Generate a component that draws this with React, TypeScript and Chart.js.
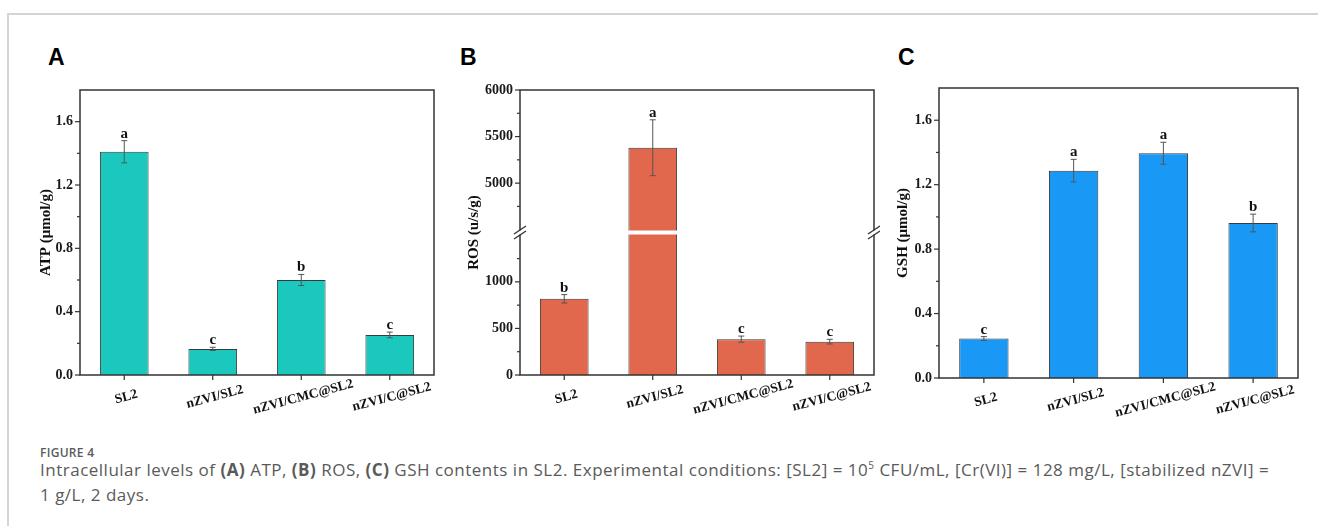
import React, { useEffect, useRef } from 'react';
import { Chart, registerables } from 'chart.js';

Chart.register(...registerables);

// ---------- data ----------
const categories = ['SL2', 'nZVI/SL2', 'nZVI/CMC@SL2', 'nZVI/C@SL2'];

const atpValues = [1.41, 0.165, 0.6, 0.253];
const atpErrors = [0.07, 0.01, 0.035, 0.018];
const atpLetters = ['a', 'c', 'b', 'c'];

const rosValues = [818, 5380, 385, 358];
const rosErrors = [45, 300, 33, 25];
const rosLetters = ['b', 'a', 'c', 'c'];

const gshValues = [0.245, 1.287, 1.395, 0.962];
const gshErrors = [0.012, 0.07, 0.068, 0.055];
const gshLetters = ['c', 'a', 'a', 'b'];

const unitMajorTicks = [0, 0.4, 0.8, 1.2, 1.6];
const unitMinorTicks = [0.2, 0.6, 1.0, 1.4];
const unitMin = 0;
const unitMax = 1.8;

const rosLowMajorTicks = [0, 500, 1000];
const rosLowMinorTicks = [250, 750, 1250];
const rosHighMajorTicks = [5000, 5500, 6000];
const rosHighMinorTicks = [4750, 5250, 5750];
const rosLowMin = 0;
const rosLowMax = 1530;
const rosHighMin = 4470;
const rosHighMax = 6000;

// ---------- styles ----------
const SERIF = "'Liberation Serif', 'Times New Roman', serif";
const FRAME = '#333333';
const TEAL = 'rgb(26,200,190)';
const CORAL = 'rgb(226,104,77)';
const BLUE = 'rgb(26,152,245)';

type AxisCfg = { id: string; major: number[]; minor: number[] };
type DecorCfg = {
  key: string;
  labels: string[];
  values: number[];
  errors: number[];
  letters: string[];
  yAxes: AxisCfg[];
  title: string;
  titleX: number;
  breakScale?: string;
};

function makeDecor(cfg: DecorCfg) {
  return {
    id: 'decor' + cfg.key,
    afterDraw(chart: any) {
      const { ctx, chartArea: a, scales } = chart;
      const xs = scales.x;
      const line = (x1: number, y1: number, x2: number, y2: number) => {
        ctx.beginPath();
        ctx.moveTo(x1, y1);
        ctx.lineTo(x2, y2);
        ctx.stroke();
      };
      ctx.save();

      // error bars + letters
      ctx.strokeStyle = '#555';
      ctx.lineWidth = 1;
      cfg.values.forEach((v, i) => {
        const s = cfg.yAxes
          .map((ax) => scales[ax.id])
          .find((sc: any) => v >= sc.min && v <= sc.max);
        if (!s) return;
        const px = xs.getPixelForValue(i);
        const top = s.getPixelForValue(v + cfg.errors[i]);
        const bot = s.getPixelForValue(v - cfg.errors[i]);
        line(px, top, px, bot);
        line(px - 3, top, px + 3, top);
        line(px - 3, bot, px + 3, bot);
        ctx.fillStyle = '#111';
        ctx.font = `bold 15px ${SERIF}`;
        ctx.textAlign = 'center';
        ctx.textBaseline = 'alphabetic';
        ctx.fillText(cfg.letters[i], px, top - 3);
      });

      // frame
      ctx.strokeStyle = FRAME;
      ctx.lineWidth = 1.5;
      ctx.strokeRect(a.left, a.top, a.right - a.left, a.bottom - a.top);

      // y ticks
      ctx.lineWidth = 1.2;
      cfg.yAxes.forEach((ax) => {
        const s = scales[ax.id];
        ax.major.forEach((v) => {
          const py = s.getPixelForValue(v);
          line(a.left, py, a.left - 5, py);
        });
        ax.minor.forEach((v) => {
          const py = s.getPixelForValue(v);
          line(a.left, py, a.left - 3, py);
        });
      });

      // x ticks + rotated labels
      ctx.fillStyle = '#111';
      ctx.font = `bold 13.5px ${SERIF}`;
      ctx.textAlign = 'center';
      ctx.textBaseline = 'middle';
      cfg.labels.forEach((lab, i) => {
        const px = xs.getPixelForValue(i);
        line(px, a.bottom, px, a.bottom + 5);
        ctx.save();
        ctx.translate(px + 2, a.bottom + 22);
        ctx.rotate((-15 * Math.PI) / 180);
        ctx.fillText(lab, 0, 0);
        ctx.restore();
      });

      // y title
      ctx.save();
      ctx.font = `bold 15px ${SERIF}`;
      ctx.translate(cfg.titleX, (a.top + a.bottom) / 2);
      ctx.rotate(-Math.PI / 2);
      ctx.textAlign = 'center';
      ctx.textBaseline = 'middle';
      ctx.fillText(cfg.title, 0, 0);
      ctx.restore();

      // axis break
      if (cfg.breakScale) {
        const yb = scales[cfg.breakScale].bottom;
        ctx.fillStyle = '#ffffff';
        ctx.fillRect(a.left - 8, yb - 2, a.right - a.left + 16, 4);
        ctx.strokeStyle = FRAME;
        ctx.lineWidth = 1.3;
        [a.left, a.right].forEach((xx) => {
          [-2.5, 2.5].forEach((off) => {
            line(xx - 6, yb + off + 4, xx + 6, yb + off - 4);
          });
        });
      }
      ctx.restore();
    },
  };
}

function yAxis(opts: any) {
  const { ticks, fmt, width, ...rest } = opts;
  return {
    type: 'linear',
    position: 'left',
    grid: { display: false, drawTicks: false, tickLength: 0 },
    border: { display: false },
    afterBuildTicks: (scale: any) => {
      scale.ticks = ticks.map((v: number) => ({ value: v }));
    },
    afterFit: (scale: any) => {
      scale.width = width;
    },
    ticks: {
      padding: 7,
      color: '#1a1a1a',
      font: { family: SERIF, size: 14, weight: 'bold' },
      callback: (v: any) => fmt(Number(v)),
    },
    ...rest,
  };
}

function xAxis(height: number) {
  return {
    type: 'category',
    offset: true,
    grid: { display: false },
    border: { display: false },
    ticks: { display: false },
    afterFit: (scale: any) => {
      scale.height = height;
    },
  };
}

const baseOptions = (padding: any) => ({
  responsive: false,
  maintainAspectRatio: false,
  animation: false,
  events: [],
  layout: { padding },
  plugins: { legend: { display: false }, tooltip: { enabled: false } },
});

const barStyle = (color: string) => ({
  backgroundColor: color,
  borderColor: '#3a3a3a',
  borderWidth: 1,
  barPercentage: 0.55,
  categoryPercentage: 1,
});

export default function App() {
  const refA = useRef<HTMLCanvasElement>(null);
  const refB = useRef<HTMLCanvasElement>(null);
  const refC = useRef<HTMLCanvasElement>(null);

  useEffect(() => {
    const fmt1 = (v: number) => v.toFixed(1);
    const fmt0 = (v: number) => String(Math.round(v));

    const chartA = new Chart(refA.current as HTMLCanvasElement, {
      type: 'bar',
      data: {
        labels: categories,
        datasets: [{ data: atpValues, ...barStyle(TEAL) }],
      },
      options: {
        ...baseOptions({ top: 50, right: 6, bottom: 0, left: 0 }),
        scales: {
          x: xAxis(45),
          y: yAxis({ min: unitMin, max: unitMax, ticks: unitMajorTicks, fmt: fmt1, width: 80 }),
        },
      } as any,
      plugins: [
        makeDecor({
          key: 'A',
          labels: categories,
          values: atpValues,
          errors: atpErrors,
          letters: atpLetters,
          yAxes: [{ id: 'y', major: unitMajorTicks, minor: unitMinorTicks }],
          title: 'ATP (\u03bcmol/g)',
          titleX: 46,
        }),
      ],
    });

    const chartB = new Chart(refB.current as HTMLCanvasElement, {
      type: 'bar',
      data: {
        labels: categories,
        datasets: [
          { data: rosValues, yAxisID: 'yLow', clip: 0, grouped: false, ...barStyle(CORAL) },
          {
            data: rosValues.map((v) => (v > rosHighMin ? v : null)),
            yAxisID: 'yHigh',
            base: rosHighMin,
            clip: 0,
            grouped: false,
            ...barStyle(CORAL),
          },
        ],
      },
      options: {
        ...baseOptions({ top: 50, right: 6, bottom: 0, left: 0 }),
        scales: {
          x: xAxis(45),
          yLow: yAxis({
            min: rosLowMin,
            max: rosLowMax,
            ticks: rosLowMajorTicks,
            fmt: fmt0,
            width: 80,
            stack: 'ros',
            stackWeight: 1,
            weight: 0,
          }),
          yHigh: yAxis({
            min: rosHighMin,
            max: rosHighMax,
            ticks: rosHighMajorTicks,
            fmt: fmt0,
            width: 80,
            stack: 'ros',
            stackWeight: 1,
            weight: 1,
          }),
        },
      } as any,
      plugins: [
        makeDecor({
          key: 'B',
          labels: categories,
          values: rosValues,
          errors: rosErrors,
          letters: rosLetters,
          yAxes: [
            { id: 'yLow', major: rosLowMajorTicks, minor: rosLowMinorTicks },
            { id: 'yHigh', major: rosHighMajorTicks, minor: rosHighMinorTicks },
          ],
          title: 'ROS (u/s/g)',
          titleX: 34,
          breakScale: 'yHigh',
        }),
      ],
    });

    const chartC = new Chart(refC.current as HTMLCanvasElement, {
      type: 'bar',
      data: {
        labels: categories,
        datasets: [{ data: gshValues, ...barStyle(BLUE) }],
      },
      options: {
        ...baseOptions({ top: 48, right: 20, bottom: 0, left: 0 }),
        scales: {
          x: xAxis(42),
          y: yAxis({ min: unitMin, max: unitMax, ticks: unitMajorTicks, fmt: fmt1, width: 69 }),
        },
      } as any,
      plugins: [
        makeDecor({
          key: 'C',
          labels: categories,
          values: gshValues,
          errors: gshErrors,
          letters: gshLetters,
          yAxes: [{ id: 'y', major: unitMajorTicks, minor: unitMinorTicks }],
          title: 'GSH (\u03bcmol/g)',
          titleX: 33,
        }),
      ],
    });

    return () => {
      chartA.destroy();
      chartB.destroy();
      chartC.destroy();
    };
  }, []);

  const letterStyle: React.CSSProperties = {
    position: 'absolute',
    top: 46,
    fontFamily: "'Liberation Sans', Arial, sans-serif",
    fontWeight: 700,
    fontSize: 23,
    lineHeight: '23px',
    color: '#000',
  };

  const captionColor = '#5a5a5a';

  return (
    <div
      style={{
        position: 'absolute',
        left: 0,
        top: 0,
        width: 1318,
        height: 526,
        overflow: 'hidden',
        background: '#fff',
      }}
    >
      <div style={{ position: 'absolute', left: 7, top: 13, width: 1311, height: 1.5, background: '#d4d4d4' }} />
      <div style={{ position: 'absolute', left: 7, top: 13, width: 1.5, height: 513, background: '#d4d4d4' }} />

      <div style={{ ...letterStyle, left: 48 }}>A</div>
      <div style={{ ...letterStyle, left: 460 }}>B</div>
      <div style={{ ...letterStyle, left: 898 }}>C</div>

      <canvas ref={refA} width={440} height={380} style={{ position: 'absolute', left: 0, top: 40 }} />
      <canvas ref={refB} width={440} height={380} style={{ position: 'absolute', left: 440, top: 40 }} />
      <canvas ref={refC} width={448} height={380} style={{ position: 'absolute', left: 870, top: 40 }} />

      <div
        style={{
          position: 'absolute',
          left: 40,
          top: 447,
          fontFamily: "'Open Sans', sans-serif",
          fontWeight: 600,
          fontSize: 12,
          lineHeight: '12px',
          letterSpacing: '0.3px',
          color: captionColor,
          whiteSpace: 'nowrap',
        }}
      >
        FIGURE 4
      </div>
      <div
        style={{
          position: 'absolute',
          left: 40,
          top: 457,
          fontFamily: "'Open Sans', sans-serif",
          fontSize: 17,
          lineHeight: '25px',
          letterSpacing: '0.5px',
          color: captionColor,
          whiteSpace: 'nowrap',
        }}
      >
        Intracellular levels of <b>(A)</b> ATP, <b>(B)</b> ROS, <b>(C)</b> GSH contents in SL2. Experimental conditions: [SL2] = 10
        <sup style={{ fontSize: 10, lineHeight: 0 }}>5</sup> CFU/mL, [Cr(VI)] = 128 mg/L, [stabilized nZVI] =
        <br />1 g/L, 2 days.
      </div>
    </div>
  );
}
